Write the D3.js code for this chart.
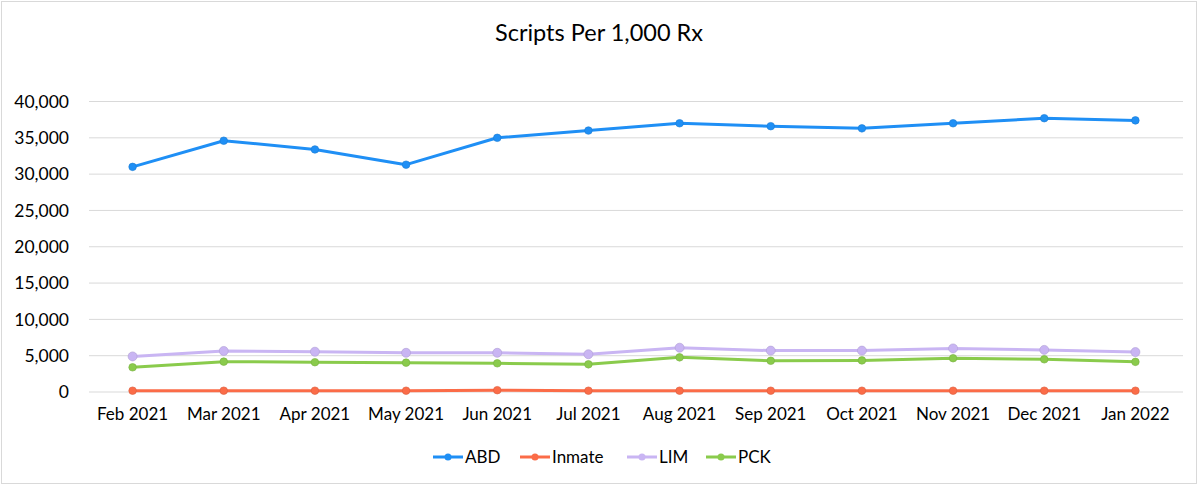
<!DOCTYPE html>
<html>
<head>
<meta charset="utf-8">
<script src="https://cdnjs.cloudflare.com/ajax/libs/d3/7.8.5/d3.min.js"></script>
<style>
  body { margin: 0; background: #fff; }
  svg { font-family: Lato, "Liberation Sans", sans-serif; }
</style>
</head>
<body>
<svg width="1202" height="486"></svg>
<script>
let months = ["Feb 2021", "Mar 2021", "Apr 2021", "May 2021", "Jun 2021", "Jul 2021",
              "Aug 2021", "Sep 2021", "Oct 2021", "Nov 2021", "Dec 2021", "Jan 2022"];
let abd = [31000, 34600, 33400, 31300, 35000, 36000, 37000, 36600, 36300, 37000, 37700, 37400];
let inmate = [180, 180, 180, 180, 250, 180, 180, 180, 180, 180, 180, 180];
let lim = [4900, 5650, 5550, 5400, 5400, 5200, 6100, 5700, 5700, 6000, 5800, 5500];
let pck = [3400, 4180, 4100, 4040, 3950, 3810, 4770, 4300, 4350, 4650, 4500, 4150];
let yTicks = [0, 5000, 10000, 15000, 20000, 25000, 30000, 35000, 40000];

let series = [
  {name: "ABD", values: abd, color: "#1f8ff5", r: 3.8},
  {name: "Inmate", values: inmate, color: "#fb6c48", r: 3.8},
  {name: "LIM", values: lim, color: "#c9b5f3", r: 4.5},
  {name: "PCK", values: pck, color: "#8acb4c", r: 3.8}
];

let svg = d3.select("svg"),
    width = +svg.attr("width"),
    height = +svg.attr("height");

// outer border
svg.append("rect")
    .attr("x", 1.5).attr("y", 1.5)
    .attr("width", 1195).attr("height", 482)
    .attr("fill", "#fff")
    .attr("stroke", "#d9d9d9");

let x = d3.scaleBand().domain(months).range([87, 1181]);
let y = d3.scaleLinear().domain([0, 40000]).range([392, 101.5]);

// gridlines
svg.append("g")
    .selectAll("line")
    .data(yTicks).enter().append("line")
        .attr("x1", 89).attr("x2", 1183)
        .attr("y1", d => y(d)).attr("y2", d => y(d))
        .attr("stroke", "#d9d9d9")
        .attr("stroke-width", 1);

// y axis labels
svg.append("g")
    .selectAll("text")
    .data(yTicks).enter().append("text")
        .attr("x", 69)
        .attr("y", d => y(d))
        .attr("dy", "0.35em")
        .attr("text-anchor", "end")
        .attr("font-size", "17.5px")
        .attr("fill", "#000")
        .text(d3.format(","));

// x axis labels
svg.append("g")
    .selectAll("text")
    .data(months).enter().append("text")
        .attr("x", d => x(d) + x.bandwidth() / 2)
        .attr("y", 420)
        .attr("text-anchor", "middle")
        .attr("font-size", "17px")
        .attr("fill", "#000")
        .text(d => d);

// title
svg.append("text")
    .attr("x", 599)
    .attr("y", 41)
    .attr("text-anchor", "middle")
    .attr("font-size", "23.5px")
    .attr("fill", "#000")
    .text("Scripts Per 1,000 Rx");

let line = d3.line()
    .x((d, i) => x(months[i]) + x.bandwidth() / 2)
    .y(d => y(d));

// draw in order so ABD stays on top like the reference
[series[3], series[2], series[1], series[0]].forEach(s => {
    let g = svg.append("g");
    g.append("path")
        .attr("d", line(s.values))
        .attr("fill", "none")
        .attr("stroke", s.color)
        .attr("stroke-width", 3)
        .attr("stroke-linejoin", "round");
    g.selectAll("circle")
        .data(s.values).enter().append("circle")
            .attr("cx", (d, i) => x(months[i]) + x.bandwidth() / 2)
            .attr("cy", d => y(d))
            .attr("r", s.r)
            .attr("fill", s.color)
            .attr("stroke", d3.color(s.color).darker(0.4))
            .attr("stroke-width", 0.6);
});

// legend
let legendX = [433, 520, 627, 706];
let legend = svg.append("g")
    .selectAll("g")
    .data(series).enter().append("g")
        .attr("transform", (d, i) => `translate(${legendX[i]},457)`);
legend.append("line")
    .attr("x1", 0).attr("x2", 30)
    .attr("stroke", d => d.color)
    .attr("stroke-width", 3);
legend.append("circle")
    .attr("cx", 15).attr("r", 3.5)
    .attr("fill", d => d.color);
legend.append("text")
    .attr("x", 32)
    .attr("dy", "0.35em")
    .attr("font-size", "17px")
    .attr("fill", "#000")
    .text(d => d.name);
</script>
</body>
</html>
